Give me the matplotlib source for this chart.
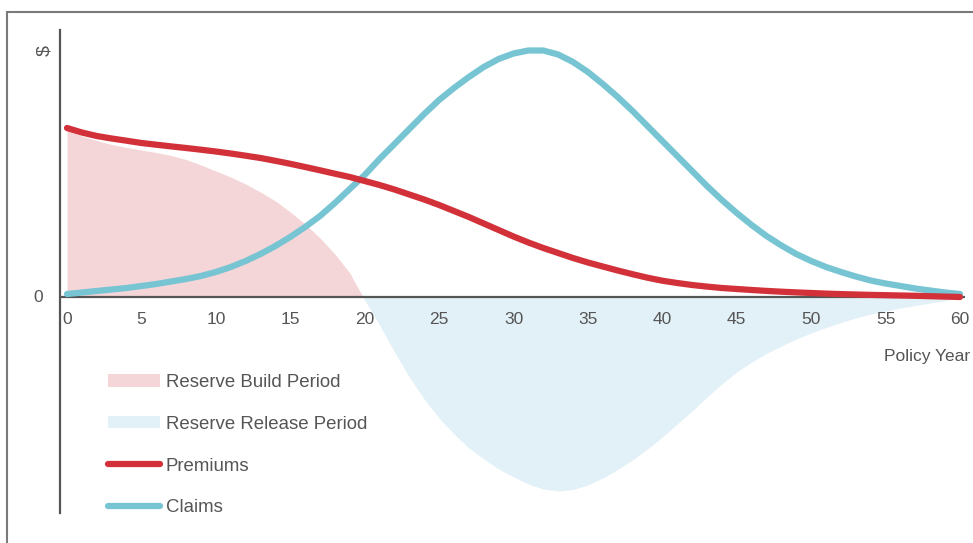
import matplotlib
matplotlib.use("Agg")
import matplotlib.pyplot as plt
from matplotlib.patches import Patch, Rectangle
from matplotlib.lines import Line2D
import numpy as np

plt.rcParams['font.family'] = ['Liberation Sans', 'DejaVu Sans']

years = list(range(0, 61))
premiums = [169, 164.5, 161, 158.5, 156.3, 154, 152.3, 150.6, 149, 147.3,
            145.5, 143.5, 141.3, 139, 136.2, 133.2, 130, 126.7, 123.3, 120,
            116, 112, 107.5, 102.5, 97.5, 92, 86, 80, 73.5, 67,
            60.5, 54.5, 49, 44, 39, 34.5, 30.5, 26.5, 22.8, 19.3,
            16.3, 14, 12, 10.4, 9, 8, 7, 6.1, 5.3, 4.6,
            4, 3.4, 2.9, 2.5, 2.1, 1.8, 1.5, 1.2, 0.8, 0.4, 0]
claims = [3, 4.5, 6, 7.5, 9, 11, 13, 15.5, 18, 21,
          25, 30, 36, 43, 51, 60, 70, 81, 94, 108,
          122, 138, 153, 168, 183, 197, 209, 220, 230, 238,
          243.5, 246.5, 246.5, 242.5, 235, 225, 213, 200, 186, 171,
          156, 141, 126, 111, 97, 84, 72, 61, 51.5, 43,
          36, 30, 25, 20.5, 16.5, 13.5, 11, 8.5, 6.5, 4.5, 3]
net_reserve = [167, 161, 156.5, 152.5, 149.5, 147, 144.5, 141.5, 137.5, 132,
               126, 120, 113, 105, 96, 85, 73, 59, 43, 24,
               -3, -28, -55, -80, -102, -121, -137, -151, -162, -172,
               -180, -187, -192, -194, -192.5, -188, -181, -172.5, -163, -152,
               -140, -127, -114, -100, -87, -75, -65, -56.5, -49, -42,
               -36, -30.5, -25.5, -21, -17, -14, -11, -8.5, -6, -3.5, -1]
xticks = [0, 5, 10, 15, 20, 25, 30, 35, 40, 45, 50, 55, 60]

RED = '#D3313A'
TEAL = '#77C4D3'
PINK = '#F5D6D8'
LBLUE = '#E2F1F7'
GREY = '#555555'

W, H = 973, 543
fig = plt.figure(figsize=(W / 100, H / 100), dpi=100)

# outer frame
fig.patches.append(Rectangle((7 / W, -0.2), 2.0, (H - 12) / H + 0.2,
                             transform=fig.transFigure, fill=False,
                             edgecolor='#7a7a7a', lw=1.5, zorder=0))

ax = fig.add_axes([60 / W, 1 - 513 / H, (965 - 60) / W, (513 - 30) / H])
px_per_year = (960 - 67) / 60.0
ax.set_xlim(-(67 - 60) / px_per_year, 60 + (965 - 960) / px_per_year)
ax.set_ylim(-(513 - 297), (297 - 30))

y = np.array(years, dtype=float)
net = np.array(net_reserve, dtype=float)
ax.fill_between(y, net, 0, where=net >= 0, interpolate=True, color=PINK, lw=0, zorder=1)
ax.fill_between(y, net, 0, where=net <= 0, interpolate=True, color=LBLUE, lw=0, zorder=1)

ax.axhline(0, color=GREY, lw=1.6, zorder=2)
ax.plot(years, premiums, color=RED, lw=4.5, solid_capstyle='round',
        solid_joinstyle='round', zorder=4)
ax.plot(years, claims, color=TEAL, lw=4.5, solid_capstyle='round',
        solid_joinstyle='round', zorder=3)

for s in ['top', 'right', 'bottom']:
    ax.spines[s].set_visible(False)
ax.spines['left'].set_color(GREY)
ax.spines['left'].set_linewidth(1.6)
ax.set_yticks([])
ax.set_xticks([])
for t in xticks:
    ax.text(t, -(320 - 297), str(t), ha='center', va='center', fontsize=12.5, color=GREY)
ax.text(-0.47 - 1.45, 0, '0', ha='center', va='center', fontsize=12.5, color=GREY)
ax.text(-0.47 - 1.0, 297 - 50, '$', ha='center', va='center', fontsize=14,
        color=GREY, rotation=90)
ax.text(60.7, -(356 - 297), 'Policy Year', ha='right', va='center', fontsize=12.5, color=GREY)

handles = [Patch(facecolor=PINK, edgecolor='none'),
           Patch(facecolor=LBLUE, edgecolor='none'),
           Line2D([], [], color=RED, lw=4.5, solid_capstyle='round'),
           Line2D([], [], color=TEAL, lw=4.5, solid_capstyle='round')]
labels = ['Reserve Build Period', 'Reserve Release Period', 'Premiums', 'Claims']
leg = fig.legend(handles, labels, loc='upper left',
                 bbox_to_anchor=(108 / W, 1 - 374 / H), frameon=False,
                 fontsize=13.4, handlelength=2.8, handleheight=0.65,
                 handletextpad=0.3, labelspacing=1.33, borderpad=0,
                 borderaxespad=0)
for t in leg.get_texts():
    t.set_color(GREY)

fig.savefig('out.png', dpi=100)
